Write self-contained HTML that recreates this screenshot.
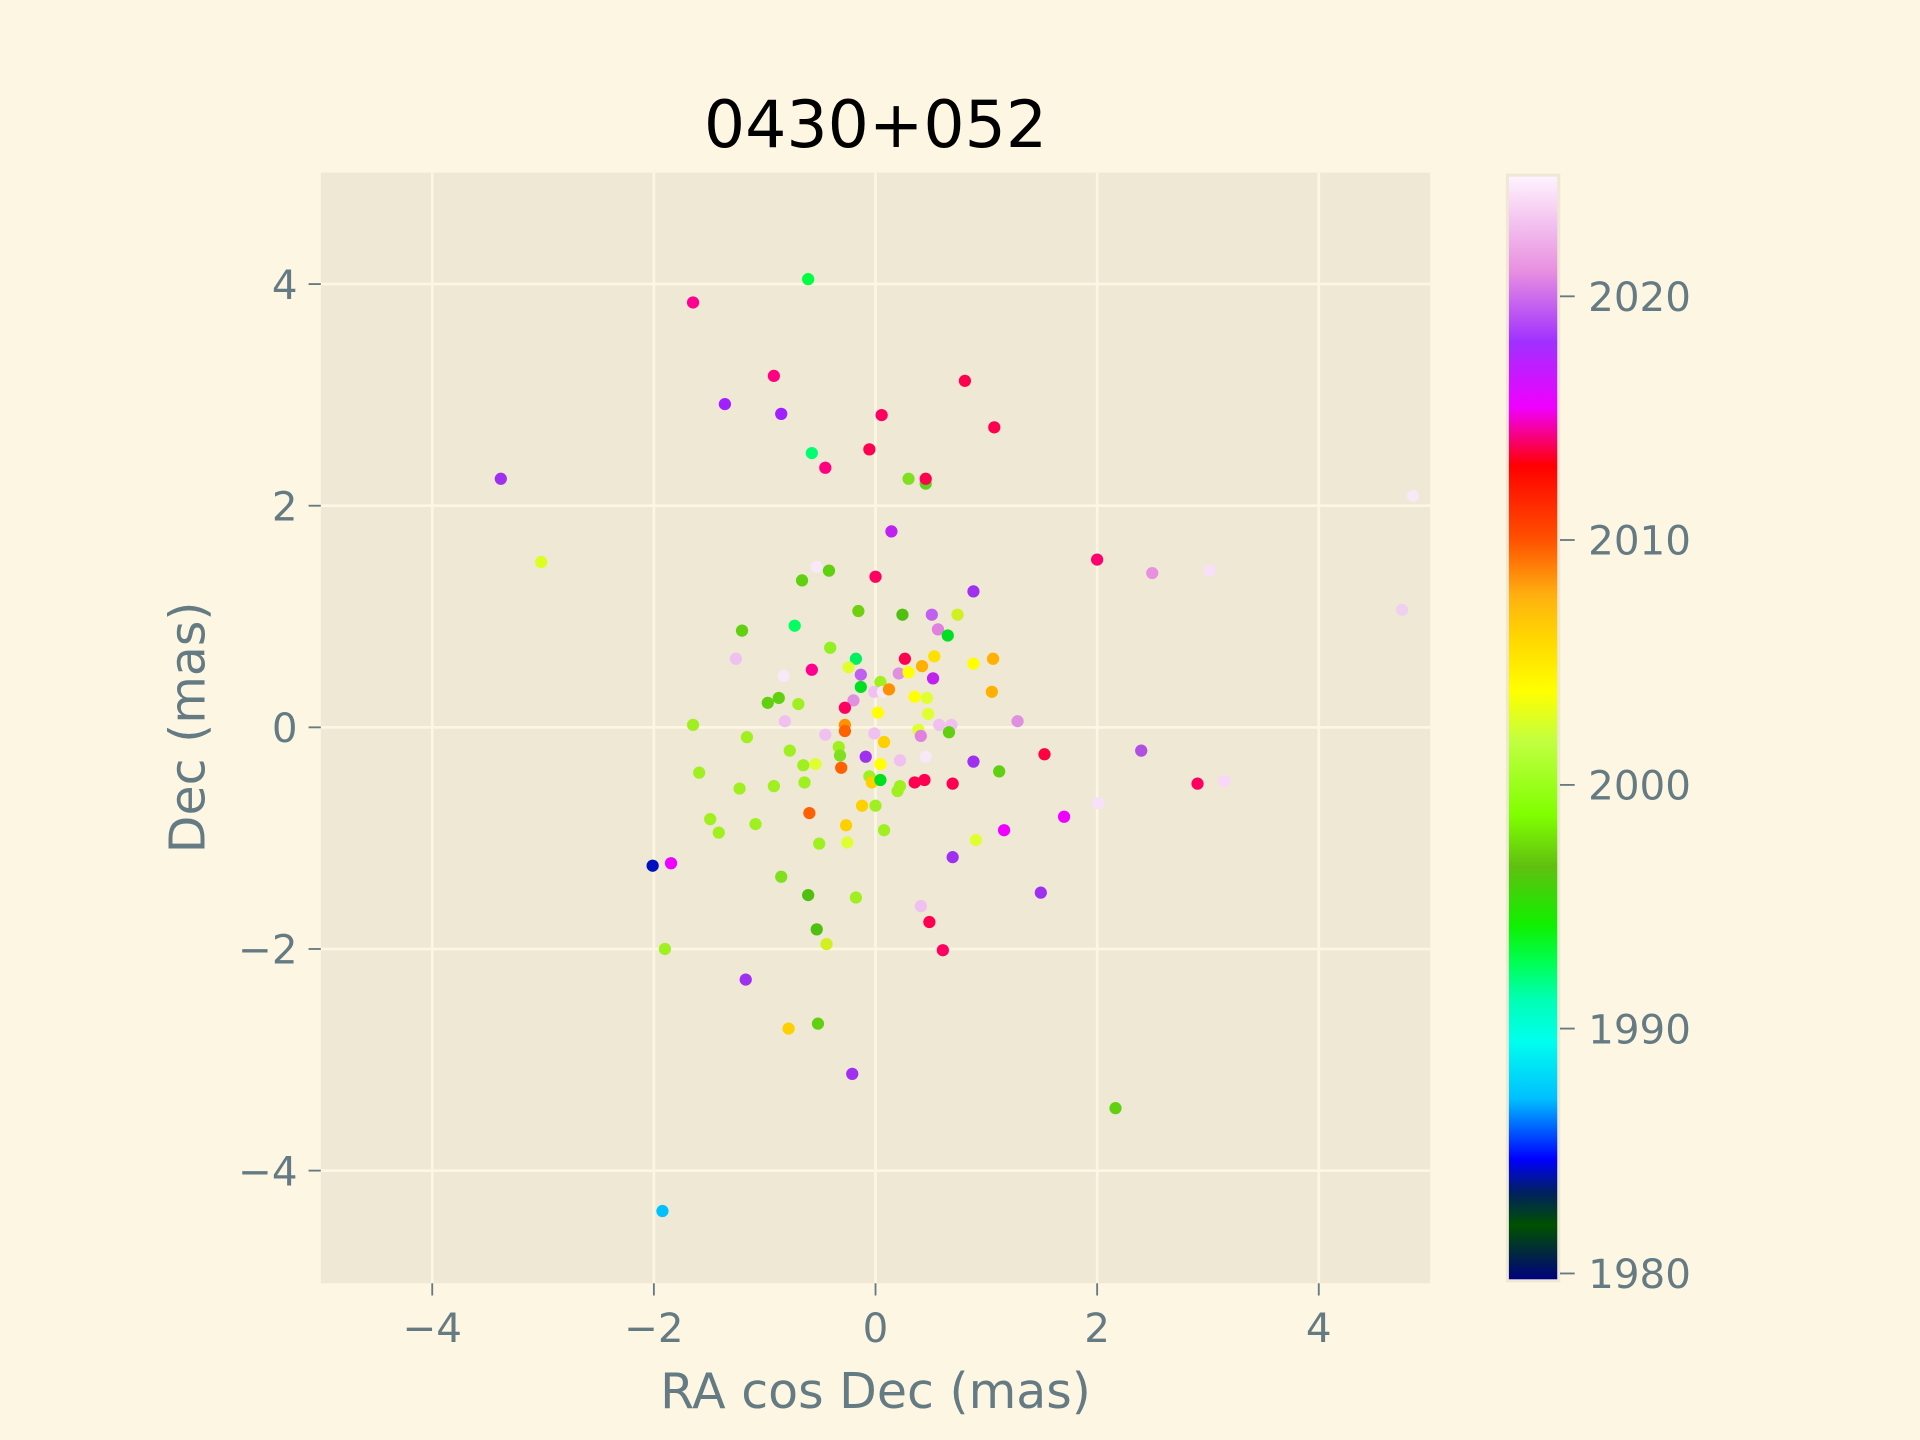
<!DOCTYPE html>
<html><head><meta charset="utf-8"><style>html,body{margin:0;padding:0;background:#fdf6e3}svg{display:block}</style></head><body>
<svg width="1920" height="1440" viewBox="0 0 1568 1176" xmlns="http://www.w3.org/2000/svg" font-family="'DejaVu Sans','Liberation Sans',sans-serif">
<defs>
<linearGradient id="cb" x1="0" y1="1" x2="0" y2="0">
<stop offset="0" stop-color="#000080"/>
<stop offset="0.05" stop-color="#005000"/>
<stop offset="0.08" stop-color="#002060"/>
<stop offset="0.11" stop-color="#0000ff"/>
<stop offset="0.165" stop-color="#00c0ff"/>
<stop offset="0.217" stop-color="#00ffee"/>
<stop offset="0.256" stop-color="#00ffb0"/>
<stop offset="0.289" stop-color="#00ff50"/>
<stop offset="0.322" stop-color="#10f000"/>
<stop offset="0.375" stop-color="#60c010"/>
<stop offset="0.421" stop-color="#80ff00"/>
<stop offset="0.487" stop-color="#c0ff40"/>
<stop offset="0.533" stop-color="#ffff00"/>
<stop offset="0.58" stop-color="#ffd800"/>
<stop offset="0.62" stop-color="#ffb010"/>
<stop offset="0.671" stop-color="#ff5000"/>
<stop offset="0.737" stop-color="#ff0000"/>
<stop offset="0.79" stop-color="#f000ff"/>
<stop offset="0.849" stop-color="#a030ff"/>
<stop offset="0.914" stop-color="#e890e0"/>
<stop offset="1" stop-color="#fff4ff"/>
</linearGradient>
</defs>
<rect width="1568" height="1176" fill="#fdf6e3"/>
<rect x="262" y="141" width="906" height="907" fill="#eee8d5"/>
<g stroke="#fdf6e3" stroke-width="2.2">
<line x1="353" y1="141" x2="353" y2="1048"/><line x1="534" y1="141" x2="534" y2="1048"/><line x1="715" y1="141" x2="715" y2="1048"/><line x1="896" y1="141" x2="896" y2="1048"/><line x1="1077" y1="141" x2="1077" y2="1048"/>
<line x1="262" y1="232" x2="1168" y2="232"/><line x1="262" y1="413" x2="1168" y2="413"/><line x1="262" y1="594" x2="1168" y2="594"/><line x1="262" y1="775" x2="1168" y2="775"/><line x1="262" y1="956" x2="1168" y2="956"/>
</g>
<g>
<circle cx="566" cy="247" r="5" fill="#ff0090"/><circle cx="660" cy="228" r="5" fill="#00ff40"/><circle cx="592" cy="330" r="5" fill="#a020ff"/><circle cx="632" cy="307" r="5" fill="#ff0080"/><circle cx="638" cy="338" r="5" fill="#a020ff"/><circle cx="409" cy="391" r="5" fill="#a030f0"/><circle cx="442" cy="459" r="5" fill="#ddff20"/><circle cx="720" cy="339" r="5" fill="#ff0060"/><circle cx="788" cy="311" r="5" fill="#ff0050"/><circle cx="812" cy="349" r="5" fill="#ff0050"/><circle cx="710" cy="367" r="5" fill="#ff0050"/><circle cx="663" cy="370" r="5" fill="#00ff70"/><circle cx="674" cy="382" r="5" fill="#ff0080"/><circle cx="742" cy="391" r="5" fill="#80e020"/><circle cx="756" cy="395" r="5" fill="#60d020"/><circle cx="756" cy="391" r="5" fill="#ff0050"/><circle cx="728" cy="434" r="5" fill="#c020f0"/><circle cx="1154" cy="405" r="5" fill="#f8e8f8"/><circle cx="896" cy="457" r="5" fill="#ff0070"/><circle cx="941" cy="468" r="5" fill="#e890e0"/><circle cx="988" cy="466" r="5" fill="#f8e0f8"/><circle cx="667" cy="463" r="5" fill="#f8e8f8"/><circle cx="677" cy="466" r="5" fill="#60d010"/><circle cx="655" cy="474" r="5" fill="#60d010"/><circle cx="715" cy="471" r="5" fill="#ff0060"/><circle cx="701" cy="499" r="5" fill="#70d010"/><circle cx="737" cy="502" r="5" fill="#50c010"/><circle cx="761" cy="502" r="5" fill="#c060f0"/><circle cx="795" cy="483" r="5" fill="#a030f0"/><circle cx="782" cy="502" r="5" fill="#d0f020"/><circle cx="1145" cy="498" r="5" fill="#f0d0f0"/><circle cx="606" cy="515" r="5" fill="#60d010"/><circle cx="649" cy="511" r="5" fill="#00ff60"/><circle cx="678" cy="529" r="5" fill="#90f020"/><circle cx="766" cy="514" r="5" fill="#e080e0"/><circle cx="774" cy="519" r="5" fill="#00e020"/><circle cx="739" cy="538" r="5" fill="#ff0050"/><circle cx="763" cy="536" r="5" fill="#ffe000"/><circle cx="811" cy="538" r="5" fill="#ffb000"/><circle cx="699" cy="538" r="5" fill="#00f060"/>
<circle cx="601" cy="538" r="5" fill="#f0c0f0"/><circle cx="640" cy="552" r="5" fill="#f8e8f8"/><circle cx="663" cy="547" r="5" fill="#ff0090"/><circle cx="693" cy="545" r="5" fill="#e0ff30"/><circle cx="703" cy="551" r="5" fill="#c060f0"/><circle cx="703" cy="561" r="5" fill="#00e020"/><circle cx="719" cy="557" r="5" fill="#a0f020"/><circle cx="734" cy="550" r="5" fill="#e090e0"/><circle cx="753" cy="544" r="5" fill="#ffb000"/><circle cx="742" cy="549" r="5" fill="#ffff00"/><circle cx="762" cy="554" r="5" fill="#c020f0"/><circle cx="795" cy="542" r="5" fill="#ffff00"/><circle cx="636" cy="570" r="5" fill="#60d010"/><circle cx="627" cy="574" r="5" fill="#60d010"/><circle cx="652" cy="575" r="5" fill="#a0f020"/><circle cx="697" cy="572" r="5" fill="#e090e0"/><circle cx="714" cy="565" r="5" fill="#f0c0f0"/><circle cx="721" cy="565" r="5" fill="#f8e8f8"/><circle cx="726" cy="563" r="5" fill="#ff9000"/><circle cx="747" cy="569" r="5" fill="#ffff00"/><circle cx="757" cy="570" r="5" fill="#e0ff30"/><circle cx="810" cy="565" r="5" fill="#ffb000"/><circle cx="690" cy="578" r="5" fill="#ff0060"/><circle cx="717" cy="582" r="5" fill="#ffff00"/><circle cx="758" cy="583" r="5" fill="#e0ff30"/><circle cx="641" cy="589" r="5" fill="#f0c0f0"/><circle cx="566" cy="592" r="5" fill="#a0f020"/><circle cx="690" cy="592" r="5" fill="#ff9000"/><circle cx="690" cy="597" r="5" fill="#ff6000"/><circle cx="750" cy="596" r="5" fill="#e0ff30"/><circle cx="767" cy="592" r="5" fill="#f0c0f0"/><circle cx="777" cy="592" r="5" fill="#f0c0f0"/><circle cx="775" cy="598" r="5" fill="#60d010"/><circle cx="752" cy="601" r="5" fill="#e080e0"/><circle cx="831" cy="589" r="5" fill="#e090e0"/><circle cx="674" cy="600" r="5" fill="#f0c0f0"/><circle cx="714" cy="599" r="5" fill="#f0c0f0"/><circle cx="610" cy="602" r="5" fill="#a0f020"/><circle cx="645" cy="613" r="5" fill="#a0f020"/><circle cx="685" cy="610" r="5" fill="#a0f020"/><circle cx="686" cy="617" r="5" fill="#80e020"/><circle cx="722" cy="606" r="5" fill="#ffd000"/><circle cx="707" cy="618" r="5" fill="#a030f0"/><circle cx="735" cy="621" r="5" fill="#f0c0f0"/><circle cx="756" cy="618" r="5" fill="#f8e8f8"/><circle cx="795" cy="622" r="5" fill="#a030f0"/><circle cx="816" cy="630" r="5" fill="#60d010"/><circle cx="853" cy="616" r="5" fill="#ff0040"/><circle cx="932" cy="613" r="5" fill="#b050e0"/><circle cx="571" cy="631" r="5" fill="#a0f020"/><circle cx="656" cy="625" r="5" fill="#a0f020"/><circle cx="666" cy="624" r="5" fill="#e0ff30"/><circle cx="687" cy="627" r="5" fill="#ff6000"/><circle cx="719" cy="624" r="5" fill="#ffff00"/><circle cx="710" cy="634" r="5" fill="#a0f020"/><circle cx="712" cy="639" r="5" fill="#ffd000"/><circle cx="719" cy="637" r="5" fill="#00e020"/><circle cx="735" cy="642" r="5" fill="#a0f020"/><circle cx="733" cy="646" r="5" fill="#a0f020"/><circle cx="747" cy="639" r="5" fill="#ff0050"/><circle cx="755" cy="637" r="5" fill="#ff0050"/><circle cx="778" cy="640" r="5" fill="#ff0050"/><circle cx="604" cy="644" r="5" fill="#a0f020"/><circle cx="632" cy="642" r="5" fill="#a0f020"/><circle cx="657" cy="639" r="5" fill="#a0f020"/><circle cx="978" cy="640" r="5" fill="#ff0060"/><circle cx="1000" cy="638" r="5" fill="#f8d8f8"/><circle cx="661" cy="664" r="5" fill="#ff6000"/><circle cx="704" cy="658" r="5" fill="#ffd000"/><circle cx="715" cy="658" r="5" fill="#a0f020"/><circle cx="580" cy="669" r="5" fill="#a0f020"/><circle cx="617" cy="673" r="5" fill="#a0f020"/><circle cx="691" cy="674" r="5" fill="#ffd000"/><circle cx="722" cy="678" r="5" fill="#a0f020"/><circle cx="869" cy="667" r="5" fill="#f000ff"/><circle cx="897" cy="656" r="5" fill="#f8e0f8"/><circle cx="587" cy="680" r="5" fill="#a0f020"/><circle cx="669" cy="689" r="5" fill="#a0f020"/><circle cx="692" cy="688" r="5" fill="#e0ff30"/><circle cx="797" cy="686" r="5" fill="#e0ff30"/><circle cx="820" cy="678" r="5" fill="#f000ff"/><circle cx="778" cy="700" r="5" fill="#a030f0"/><circle cx="533" cy="707" r="5" fill="#0010c0"/><circle cx="548" cy="705" r="5" fill="#f000ff"/><circle cx="638" cy="716" r="5" fill="#80e020"/><circle cx="660" cy="731" r="5" fill="#50c010"/><circle cx="699" cy="733" r="5" fill="#a0f020"/><circle cx="850" cy="729" r="5" fill="#a030f0"/><circle cx="752" cy="740" r="5" fill="#f0c0f0"/><circle cx="759" cy="753" r="5" fill="#ff0050"/><circle cx="667" cy="759" r="5" fill="#50c010"/><circle cx="675" cy="771" r="5" fill="#d0f020"/><circle cx="770" cy="776" r="5" fill="#ff0060"/><circle cx="543" cy="775" r="5" fill="#a0f020"/><circle cx="609" cy="800" r="5" fill="#a030f0"/><circle cx="668" cy="836" r="5" fill="#60d010"/><circle cx="644" cy="840" r="5" fill="#ffd000"/><circle cx="696" cy="877" r="5" fill="#a030f0"/><circle cx="911" cy="905" r="5" fill="#60d010"/><circle cx="541" cy="989" r="5" fill="#00c0ff"/>
</g>
<g stroke="#657b83" stroke-width="1.5">
<line x1="353" y1="1048" x2="353" y2="1058"/><line x1="534" y1="1048" x2="534" y2="1058"/><line x1="715" y1="1048" x2="715" y2="1058"/><line x1="896" y1="1048" x2="896" y2="1058"/><line x1="1077" y1="1048" x2="1077" y2="1058"/>
<line x1="262" y1="232" x2="252" y2="232"/><line x1="262" y1="413" x2="252" y2="413"/><line x1="262" y1="594" x2="252" y2="594"/><line x1="262" y1="775" x2="252" y2="775"/><line x1="262" y1="956" x2="252" y2="956"/>
</g>
<g fill="#657b83" font-size="33" text-anchor="middle">
<text x="353" y="1096">−4</text><text x="534" y="1096">−2</text><text x="715" y="1096">0</text><text x="896" y="1096">2</text><text x="1077" y="1096">4</text>
</g>
<g fill="#657b83" font-size="33" text-anchor="end">
<text x="243" y="244">4</text><text x="243" y="425">2</text><text x="243" y="606">0</text><text x="243" y="787">−2</text><text x="243" y="968">−4</text>
</g>
<text x="715" y="1150" fill="#657b83" font-size="40" text-anchor="middle">RA cos Dec (mas)</text>
<text transform="translate(167,594) rotate(-90)" fill="#657b83" font-size="40" text-anchor="middle">Dec (mas)</text>
<text x="715" y="120" fill="#000" font-size="53" text-anchor="middle">0430+052</text>
<rect x="1231" y="143" width="42" height="903" fill="url(#cb)" stroke="#eee8d5" stroke-width="2.5"/>
<g stroke="#657b83" stroke-width="1.5">
<line x1="1274" y1="242" x2="1286" y2="242"/><line x1="1274" y1="441" x2="1286" y2="441"/><line x1="1274" y1="641" x2="1286" y2="641"/><line x1="1274" y1="840" x2="1286" y2="840"/><line x1="1274" y1="1040" x2="1286" y2="1040"/>
</g>
<g fill="#657b83" font-size="33">
<text x="1297" y="254">2020</text><text x="1297" y="453">2010</text><text x="1297" y="653">2000</text><text x="1297" y="852">1990</text><text x="1297" y="1052">1980</text>
</g>
</svg>
</body></html>
